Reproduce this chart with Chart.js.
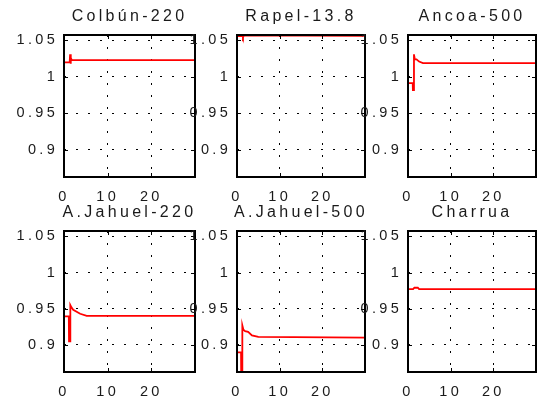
<!DOCTYPE html>
<html>
<head>
<meta charset="utf-8">
<script src="https://cdn.jsdelivr.net/npm/chart.js@4"></script>
<style>
  body { margin: 0; background: #fff; overflow: hidden; }
  #wrap { position: relative; width: 537px; height: 398px; overflow: hidden; }
  #wrap canvas { position: absolute; }
</style>
</head>
<body>
<div id="wrap"></div>
<script>
// wartości (napięcia w p.u. w funkcji czasu)
const titles = ['Colbún-220', 'Rapel-13.8', 'Ancoa-500', 'A.Jahuel-220', 'A.Jahuel-500', 'Charrua'];

const xTicks = [0, 10, 20];
const xTickLabels = ['0', '10', '20'];
const yTicks = [0.9, 0.95, 1, 1.05];
const yTickLabels = ['0.9', '0.95', '1', '1.05'];

const colbunT = [0, 1.3, 1.4, 1.5, 1.6, 1.8, 30];
const colbunV = [1.020, 1.020, 1.031, 1.018, 1.026, 1.023, 1.023];

const rapelT = [0, 1.3, 1.4, 1.6, 30];
const rapelV = [1.056, 1.056, 1.054, 1.057, 1.0565];

const ancoaT = [0, 1.1, 1.15, 1.35, 1.4, 1.6, 2.0, 2.6, 3.5, 30];
const ancoaV = [0.9915, 0.9915, 0.982, 0.982, 1.031, 1.024, 1.024, 1.021, 1.019, 1.019];

const jahuel220T = [0, 1.1, 1.15, 1.4, 1.45, 1.7, 2.1, 3.7, 5.2, 30];
const jahuel220V = [0.9395, 0.9395, 0.905, 0.905, 0.955, 0.952, 0.9486, 0.943, 0.940, 0.940];

const jahuel500T = [0, 0.95, 1.0, 1.2, 1.25, 1.5, 1.9, 2.6, 3.5, 5.0, 30];
const jahuel500V = [0.8897, 0.8897, 0.84, 0.84, 0.927, 0.921, 0.919, 0.918, 0.913, 0.911, 0.910];

const charruaT = [0, 1.2, 1.5, 2.3, 2.6, 30];
const charruaV = [0.977, 0.977, 0.979, 0.979, 0.977, 0.977];

const seriesT = [colbunT, rapelT, ancoaT, jahuel220T, jahuel500T, charruaT];
const seriesV = [colbunV, rapelV, ancoaV, jahuel220V, jahuel500V, charruaV];

// położenie obszarów wykresu (lewo, góra, szerokość, wysokość)
const boxes = [
    [64, 35, 131, 142], [237, 35, 128, 142], [408, 35, 128, 142],
    [64, 231, 131, 141], [237, 231, 128, 141], [408, 231, 128, 141]
];
// pusta oś po prawej o tej samej szerokości co oś Y -> tytuł wyśrodkowany nad wykresem
const AXIS_W = 64, TOP_H = 35, BOTTOM_H = 30;
const TICK_FONT = { family: 'Liberation Sans, Arial, sans-serif', size: 14.5 };
const TITLE_FONT = { family: 'Liberation Sans, Arial, sans-serif', size: 16, weight: 'normal', lineHeight: 1.2 };
const TEXT_COLOR = '#1a1a1a';

// ramka i znaczniki skierowane do środka (jak w MATLAB)
const framePlugin = {
    id: 'frame',
    beforeDraw(chart) { chart.ctx.letterSpacing = '3.3px'; },
    afterDraw(chart) {
        const { ctx, chartArea: a, scales: { x, y } } = chart;
        ctx.save();
        ctx.strokeStyle = '#000';
        ctx.lineWidth = 1;
        ctx.beginPath();
        xTicks.forEach(v => {
            const px = Math.round(x.getPixelForValue(v)) + 0.5;
            ctx.moveTo(px, a.bottom); ctx.lineTo(px, a.bottom - 4);
            ctx.moveTo(px, a.top); ctx.lineTo(px, a.top + 4);
        });
        yTicks.forEach(v => {
            const py = Math.round(y.getPixelForValue(v)) + 0.5;
            ctx.moveTo(a.left, py); ctx.lineTo(a.left + 4, py);
            ctx.moveTo(a.right, py); ctx.lineTo(a.right - 4, py);
        });
        ctx.stroke();
        ctx.lineWidth = 2;
        ctx.strokeRect(a.left, a.top, a.right - a.left, a.bottom - a.top);
        ctx.restore();
    }
};

const wrap = document.getElementById('wrap');
titles.forEach((title, i) => {
    const [left, top, w, h] = boxes[i];
    const canvas = document.createElement('canvas');
    canvas.width = AXIS_W + w + AXIS_W;
    canvas.height = TOP_H + h + BOTTOM_H;
    canvas.style.left = (left - AXIS_W) + 'px';
    canvas.style.top = (top - TOP_H) + 'px';
    wrap.appendChild(canvas);

    const points = seriesT[i].map((t, k) => ({ x: t, y: seriesV[i][k] }));

    new Chart(canvas.getContext('2d'), {
        type: 'line',
        data: {
            datasets: [{
                data: points,
                borderColor: '#ff0000',
                borderWidth: 1.8,
                pointRadius: 0,
                tension: 0,
                fill: false
            }]
        },
        options: {
            responsive: false,
            animation: false,
            devicePixelRatio: 1,
            layout: { padding: 0 },
            plugins: {
                legend: { display: false },
                tooltip: { enabled: false },
                title: {
                    display: true,
                    text: title,
                    color: TEXT_COLOR,
                    font: TITLE_FONT,
                    padding: { top: 7, bottom: 8.8 }
                }
            },
            scales: {
                x: {
                    type: 'linear',
                    min: 0,
                    max: 30,
                    afterBuildTicks: s => { s.ticks = xTicks.map(v => ({ value: v })); },
                    afterFit: s => { s.height = BOTTOM_H; },
                    grid: { color: '#000', lineWidth: 1, drawTicks: false },
                    border: { display: false, dash: [2, 10] },
                    ticks: {
                        callback: (v, k) => xTickLabels[k],
                        color: TEXT_COLOR,
                        font: TICK_FONT,
                        padding: 11,
                        maxRotation: 0
                    }
                },
                y: {
                    type: 'linear',
                    min: 0.8625,
                    max: 1.0575,
                    afterBuildTicks: s => { s.ticks = yTicks.map(v => ({ value: v })); },
                    afterFit: s => { s.width = AXIS_W; },
                    grid: { color: '#000', lineWidth: 1, drawTicks: false },
                    border: { display: false, dash: [2, 10] },
                    ticks: {
                        callback: (v, k) => yTickLabels[k],
                        color: TEXT_COLOR,
                        font: TICK_FONT,
                        padding: 6
                    }
                },
                yRight: {
                    type: 'linear',
                    position: 'right',
                    min: 0.8625,
                    max: 1.0575,
                    afterFit: s => { s.width = AXIS_W; },
                    grid: { display: false },
                    border: { display: false },
                    ticks: { display: false }
                }
            }
        },
        plugins: [framePlugin]
    });
});
</script>
</body>
</html>
